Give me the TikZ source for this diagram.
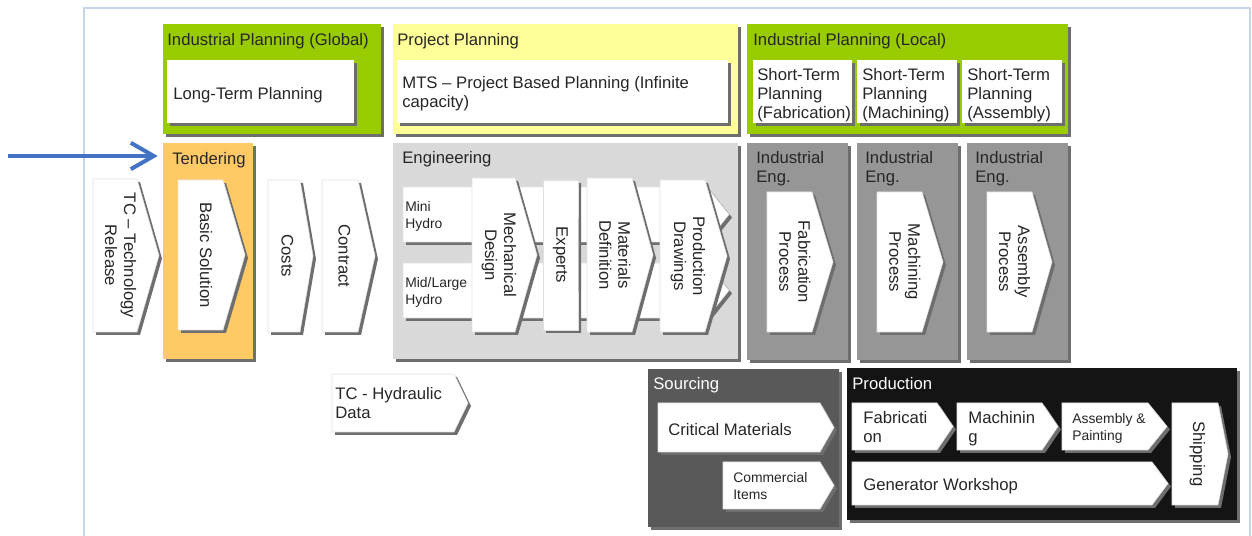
\documentclass[tikz,border=0pt]{standalone}
\usepackage{fontspec}
\setmainfont{Liberation Sans}
\usetikzlibrary{arrows.meta}

\definecolor{ipgreen}{HTML}{99CC00}
\definecolor{ppyellow}{HTML}{FFFF99}
\definecolor{tdorange}{HTML}{FFC965}
\definecolor{englight}{HTML}{D9D9D9}
\definecolor{iegray}{HTML}{969696}
\definecolor{srcgray}{HTML}{595959}
\definecolor{prodblack}{HTML}{141414}
\definecolor{boxshade}{HTML}{6E6E6E}
\definecolor{framebl}{HTML}{C5D5EA}
\definecolor{arrowbl}{HTML}{4472C4}

% panel: name, left, top, right, bottom, fill
\newcommand{\panelbox}[6]{%
  \fill[boxshade] ({#2+3},{#3+3}) rectangle ({#4+3},{#5+3});
  \fill[#6] (#2,#3) rectangle (#4,#5);
  \coordinate (#1) at (#2,#3);}
% chevron: name, left, top, right (tip), bottom, tip depth
\newcommand{\chevbox}[6]{%
  \fill[boxshade] ({#2+3},{#3+3}) -- ({#4-#6+3},{#3+3}) -- ({#4+3},{(#3+#5)/2+3}) -- ({#4-#6+3},{#5+3}) -- ({#2+3},{#5+3}) -- cycle;
  \filldraw[fill=white, draw=black!12, line width=0.3pt] (#2,#3) -- ({#4-#6},#3) -- (#4,{(#3+#5)/2}) -- ({#4-#6},#5) -- (#2,#5) -- cycle;
  \coordinate (#1) at ({(#2+#4)/2-#6/4},{(#3+#5)/2});}

\begin{document}
\begin{tikzpicture}[x=0.02cm, y=-0.02cm,
    txt/.style={font=\fontsize{9.5}{10.8}\selectfont, inner sep=0pt, align=left, anchor=north west, text=black!85},
    sml/.style={txt, font=\fontsize{7.9}{9.6}\selectfont},
    wtxt/.style={txt, text=white},
    vtxt/.style={font=\fontsize{9.5}{10.8}\selectfont, inner sep=0pt, align=center, rotate=-90, text=black!85},
    bluearrow/.style={draw=arrowbl, line width=2.3pt, -{Straight Barb[length=13pt,width=15pt]}, shorten >=3pt}]
  \useasboundingbox (0,0) rectangle (1252,536);
  \draw[framebl, line width=1.2pt] (84,536) -- (84,8) -- (1250,8) -- (1250,536);

  \panelbox{ipglobal}{163}{24}{381}{134}{ipgreen}
  \panelbox{projplan}{393}{24}{738}{134}{ppyellow}
  \panelbox{iplocal}{747}{24}{1068}{134}{ipgreen}
  \panelbox{ltplan}{167}{60}{354}{123}{white}
  \panelbox{mtsbox}{397}{60}{728}{123}{white}
  \panelbox{stfab}{753}{60}{852}{123}{white}
  \panelbox{stmach}{857}{60}{957}{123}{white}
  \panelbox{stassy}{962}{60}{1062}{123}{white}
  \panelbox{tender}{163}{143}{253}{359}{tdorange}
  \panelbox{eng}{393}{143}{738}{359}{englight}
  \panelbox{ieone}{747}{143}{848}{360}{iegray}
  \panelbox{ietwo}{857}{143}{958}{360}{iegray}
  \panelbox{iethree}{967}{143}{1068}{360}{iegray}
  \panelbox{sourcing}{648}{369}{839}{527}{srcgray}
  \panelbox{production}{847}{368}{1237}{520}{prodblack}

  \chevbox{tcrel}{93}{179}{159}{332}{22}
  \chevbox{basic}{178}{180}{245}{330}{22}
  \chevbox{costs}{268}{180}{313}{332}{13}
  \chevbox{contract}{322}{180}{375}{332}{17}
  \chevbox{bandmini}{403}{187}{729}{242}{22}
  \chevbox{bandmid}{403}{263}{729}{318}{22}
  \chevbox{mech}{472}{178}{537}{332}{22}
  \chevbox{experts}{543}{180}{578}{330}{0}
  \chevbox{matdef}{587}{178}{653}{332}{21}
  \chevbox{proddraw}{660}{180}{727}{332}{22}
  \chevbox{fabproc}{767}{192}{833}{332}{21}
  \chevbox{machproc}{877}{192}{943}{332}{21}
  \chevbox{assyproc}{987}{192}{1052}{332}{20}
  \chevbox{tchyd}{332}{374}{468}{432}{14}
  \chevbox{critmat}{658}{403}{834}{452}{14}
  \chevbox{commitems}{723}{462}{834}{509}{14}
  \chevbox{fab}{852}{403}{953}{450}{16}
  \chevbox{mach}{957}{403}{1058}{450}{16}
  \chevbox{assy}{1062}{403}{1167}{450}{19}
  \chevbox{genws}{852}{462}{1168}{505}{16}
  \chevbox{ship}{1172}{403}{1228}{505}{10}

  \node[txt] (h-ipglobal) at (167,33) {Industrial Planning (Global)};
  \node[txt] (l-ltplan) at (173,87) {Long-Term Planning};
  \node[txt] (h-projplan) at (397,33) {Project Planning};
  \node[txt] (l-mts) at (402,76) {MTS – Project Based Planning (Infinite\\capacity)};
  \node[txt] (h-iplocal) at (753,33) {Industrial Planning (Local)};
  \node[txt] (l-stfab) at (757,68) {Short-Term\\Planning\\(Fabrication)};
  \node[txt] (l-stmach) at (862,68) {Short-Term\\Planning\\(Machining)};
  \node[txt] (l-stassy) at (967,68) {Short-Term\\Planning\\(Assembly)};
  \node[txt] (h-tender) at (172,152) {Tendering};
  \node[txt] (h-eng) at (402,151) {Engineering};
  \node[txt] (h-ieone) at (756,151) {Industrial\\Eng.};
  \node[txt] (h-ietwo) at (865,151) {Industrial\\Eng.};
  \node[txt] (h-iethree) at (975,151) {Industrial\\Eng.};
  \node[sml] (l-mini) at (405,201) {Mini\\Hydro};
  \node[sml] (l-midlarge) at (405,277) {Mid/Large\\Hydro};
  \node[txt] (l-tchyd) at (335,387) {TC - Hydraulic\\Data};
  \node[wtxt] (h-sourcing) at (653,377) {Sourcing};
  \node[txt] (l-critmat) at (668,423) {Critical Materials};
  \node[sml] (l-commitems) at (733,472) {Commercial\\Items};
  \node[wtxt] (h-production) at (852,377) {Production};
  \node[txt] (l-fab) at (863,411) {Fabricati\\on};
  \node[txt] (l-mach) at (968,411) {Machinin\\g};
  \node[sml] (l-assy) at (1072,413) {Assembly \&\\Painting};
  \node[txt] (l-genws) at (863,478) {Generator Workshop};

  \node[vtxt] (l-tcrel) at (tcrel) {TC – Technology\\Release};
  \node[vtxt] (l-basic) at (basic) {Basic Solution};
  \node[vtxt] (l-costs) at (costs) {Costs};
  \node[vtxt] (l-contract) at (contract) {Contract};
  \node[vtxt] (l-mech) at (mech) {Mechanical\\Design};
  \node[vtxt] (l-experts) at (experts) {Experts};
  \node[vtxt] (l-matdef) at (matdef) {Materials\\Definition};
  \node[vtxt] (l-proddraw) at (proddraw) {Production\\Drawings};
  \node[vtxt] (l-fabproc) at (fabproc) {Fabrication\\Process};
  \node[vtxt] (l-machproc) at (machproc) {Machining\\Process};
  \node[vtxt] (l-assyproc) at (assyproc) {Assembly\\Process};
  \node[vtxt] (l-ship) at (ship) {Shipping};

  \coordinate (arrtail) at (8,156);
  \draw[bluearrow] (arrtail) -- (arrtail -| tender);
\end{tikzpicture}
\end{document}
